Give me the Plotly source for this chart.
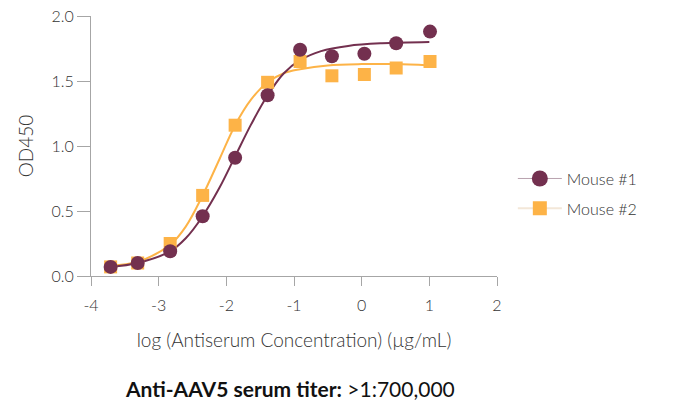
import plotly.graph_objects as go

# Data points
log_conc = [-3.71, -3.31, -2.83, -2.35, -1.87, -1.39, -0.91, -0.44, 0.04, 0.51, 1.01]
mouse1_od = [0.07, 0.10, 0.19, 0.46, 0.91, 1.39, 1.74, 1.69, 1.71, 1.79, 1.88]
mouse2_od = [0.07, 0.10, 0.25, 0.62, 1.16, 1.49, 1.65, 1.54, 1.55, 1.60, 1.65]

# Fitted curves
fit1_x = [-3.71, -3.31, -2.83, -2.6, -2.35, -2.1, -1.87, -1.63, -1.39, -1.15, -0.91, -0.6, -0.2, 0.3, 1.0]
fit1_y = [0.07, 0.10, 0.19, 0.29, 0.46, 0.68, 0.92, 1.17, 1.39, 1.56, 1.66, 1.73, 1.77, 1.79, 1.80]
fit2_x = [-3.71, -3.31, -2.83, -2.6, -2.35, -2.1, -1.87, -1.63, -1.39, -1.15, -0.91, -0.5, 0.0, 0.5, 1.0]
fit2_y = [0.08, 0.11, 0.24, 0.38, 0.62, 0.90, 1.16, 1.36, 1.49, 1.56, 1.59, 1.62, 1.63, 1.63, 1.62]

series_names = ["Mouse #1", "Mouse #2"]
x_ticks = [-4, -3, -2, -1, 0, 1, 2]
y_ticks = [0.0, 0.5, 1.0, 1.5, 2.0]

PURPLE = "#73304F"
ORANGE = "#FDB347"
FONT = "Lato"
TXT = "#333333"

fig = go.Figure()
fig.add_trace(go.Scatter(x=fit2_x, y=fit2_y, mode="lines", line=dict(color=ORANGE, width=2, shape="spline"),
                         showlegend=False, hoverinfo="skip"))
fig.add_trace(go.Scatter(x=fit1_x, y=fit1_y, mode="lines", line=dict(color=PURPLE, width=2, shape="spline"),
                         showlegend=False, hoverinfo="skip"))
fig.add_trace(go.Scatter(x=log_conc, y=mouse2_od, mode="markers",
                         marker=dict(symbol="square", size=13, color=ORANGE), showlegend=False))
fig.add_trace(go.Scatter(x=log_conc, y=mouse1_od, mode="markers",
                         marker=dict(symbol="circle", size=14, color=PURPLE), showlegend=False))
# legend entries
fig.add_trace(go.Scatter(x=[None], y=[None], mode="lines+markers", name=series_names[0], legendgroup="a",
                         line=dict(color="#B9A2AE", width=1), marker=dict(symbol="circle", size=16, color=PURPLE)))
fig.add_trace(go.Scatter(x=[None], y=[None], mode="lines+markers", name=series_names[1], legendgroup="b",
                         line=dict(color="#F3E7D8", width=2), marker=dict(symbol="square", size=14, color=ORANGE)))

fig.update_layout(
    width=680, height=402,
    margin=dict(l=91, r=183, t=16, b=126, autoexpand=False),
    paper_bgcolor="white", plot_bgcolor="white",
    font=dict(family=FONT, size=16, color=TXT, weight=300),
    legend=dict(x=1.039, xanchor="left", y=0.317, yanchor="middle", bgcolor="rgba(0,0,0,0)",
                itemwidth=44, tracegroupgap=6, font=dict(size=16, color=TXT)),
    xaxis=dict(range=[-4, 2], tickvals=x_ticks, ticktext=[str(v) for v in x_ticks], automargin=False,
               showgrid=False, zeroline=False, showline=True, linecolor="#A6A6A6", linewidth=1,
               ticks="outside", ticklen=9, tickcolor="#A6A6A6", ticklabelstandoff=6,
               title=dict(text="log (Antiserum Concentration) (µg/mL)", standoff=20)),
    yaxis=dict(range=[0, 2], tickvals=y_ticks, ticktext=[f"{v:.1f}" for v in y_ticks], automargin=False,
               showgrid=False, zeroline=False, showline=True, linecolor="#A6A6A6", linewidth=1,
               ticks="outside", ticklen=13, tickcolor="#A6A6A6",
               title=dict(text="OD450", standoff=12)),
    annotations=[dict(text="<b>Anti-AAV5 serum titer:</b> &gt;1:700,000", xref="paper", yref="paper",
                      x=(290 - 91) / 406, y=(276 - 388) / 260, xanchor="center", yanchor="middle",
                      showarrow=False, font=dict(family=FONT, size=21, color="#111111", weight=400))],
)

fig.write_html("out.html", config={"displayModeBar": False},
               post_script="document.body.style.margin='0';")
